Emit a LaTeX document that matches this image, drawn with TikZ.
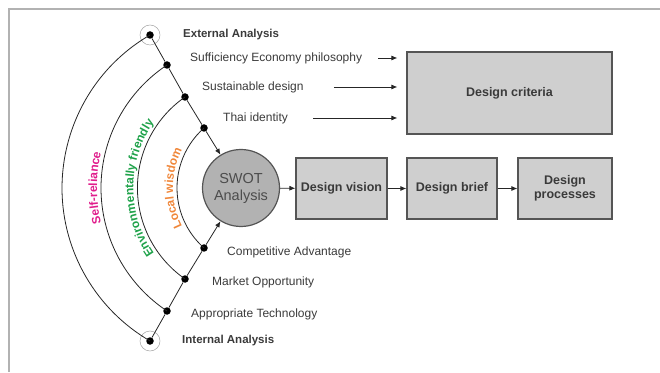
\documentclass[tikz,border=0pt]{standalone}
\usepackage{fontspec}
\setmainfont{Liberation Sans}
\usepackage{tikz}
\usetikzlibrary{arrows.meta,decorations.text}

\definecolor{selfcol}{HTML}{E01E8C}
\definecolor{envcol}{HTML}{1FA24A}
\definecolor{localcol}{HTML}{F0873A}
\definecolor{boxfill}{HTML}{CFCFCF}
\definecolor{swotfill}{HTML}{B2B2B2}
\definecolor{edge}{HTML}{555555}
\definecolor{txt}{HTML}{3A3A3A}

\newcommand{\arcfont}{\bfseries\fontsize{12}{14}\selectfont}

\begin{document}
\begin{tikzpicture}[x=1pt, y=1pt,
  label/.style={anchor=west, inner sep=0pt, text=txt, font=\fontsize{12}{14}\selectfont},
  heading/.style={label, font=\bfseries\fontsize{11.5}{14}\selectfont},
  stage/.style={draw=edge, line width=1.2pt, fill=boxfill, text=txt, align=center,
    font=\bfseries\fontsize{12.5}{14}\selectfont, minimum height=61pt, inner sep=2pt},
  dot/.style={circle, fill=black, inner sep=0pt, minimum size=7.5pt},
  ring/.style={draw=black!35, line width=0.5pt},
  wire/.style={line width=0.8pt, draw=black!85},
  arr/.style={wire, -{Latex[length=6pt,width=5pt]}}]

  \useasboundingbox (0,0) rectangle (660,372);
  \draw[black!30, line width=1.5pt] (9,0) -- (9,363) -- (660,363);

  % arc centres
  \coordinate (c1) at (239,184);
  \coordinate (c2) at (248.6,184);
  \coordinate (c3) at (248.2,184);
  \coordinate (c4) at (257,184);

  \node[circle, draw=edge, line width=1.2pt, fill=swotfill, minimum size=77pt, inner sep=0pt,
    text=black!70, align=center, font=\fontsize{14.5}{17}\selectfont] (swot) at (241,184) {SWOT\\Analysis};

  \node[dot] (ext) at (150,337) {};
  \node[dot] (e1) at (167,307) {};
  \node[dot] (e2) at (185,275) {};
  \node[dot] (e3) at (204,244) {};
  \node[dot] (int) at (150,31) {};
  \node[dot] (i1) at (167,61) {};
  \node[dot] (i2) at (185,93) {};
  \node[dot] (i3) at (204,124) {};

  \draw[ring] (ext) circle[radius=10pt];
  \draw[ring] (int) circle[radius=10pt];

  \draw[wire] (ext.center) arc[start angle=120.2, end angle=239.8, radius=177];
  \draw[wire] (e1.center) arc[start angle=123.56, end angle=236.44, radius=147.6];
  \draw[wire] (e2.center) arc[start angle=124.8, end angle=235.2, radius=110.8];
  \draw[wire] (e3.center) arc[start angle=131.5, end angle=228.5, radius=80.06];

  \draw[wire] (ext) -- (e1) -- (e2) -- (e3);
  \draw[arr] (e3) -- (swot);
  \draw[wire] (int) -- (i1) -- (i2) -- (i3);
  \draw[arr] (i3) -- (swot);

  \path[decorate, decoration={text along path, text align=center,
    text={|\arcfont\color{selfcol}|Self-reliance}}]
    ([shift={(c2)}]215:151.6) arc[start angle=215, end angle=145, radius=151.6];
  \path[decorate, decoration={text along path, text align=center,
    text={|\arcfont\color{envcol}|Environmentally friendly}}]
    ([shift={(c3)}]218:114.8) arc[start angle=218, end angle=142, radius=114.8];
  \path[decorate, decoration={text along path, text align=center,
    text={|\arcfont\color{localcol}|Local wisdom}}]
    ([shift={(c4)}]212:84) arc[start angle=212, end angle=148, radius=84];

  \node[heading] (exttext) at (183,337) {External Analysis};
  \node[label] (suff) at (190,314) {Sufficiency Economy philosophy};
  \node[label] (sust) at (202,285) {Sustainable design};
  \node[label] (thai) at (223,254) {Thai identity};
  \node[label] (comp) at (227,120) {Competitive Advantage};
  \node[label] (market) at (212,90) {Market Opportunity};
  \node[label] (appr) at (191,58) {Appropriate Technology};
  \node[heading] (inttext) at (182,31) {Internal Analysis};

  \node[stage, minimum width=205pt, minimum height=82pt] (crit) at (509.5,279) {Design criteria};
  \node[stage, minimum width=91pt] (vision) at (341.5,183.5) {Design vision};
  \node[stage, minimum width=90pt] (brief) at (452,183.5) {Design brief};
  \node[stage, minimum width=94pt] (proc) at (565,183.5) {Design\\processes};

  \draw[arr, shorten <=16pt, shorten >=9pt] (suff.east) -- (suff.east -| crit.west);
  \draw[arr, shorten <=30pt, shorten >=9pt] (sust.east) -- (sust.east -| crit.west);
  \draw[arr, shorten <=25pt, shorten >=9pt] (thai.east) -- (thai.east -| crit.west);

  \draw[arr] (swot) -- (vision);
  \draw[arr] (vision) -- (brief);
  \draw[arr] (brief) -- (proc);
\end{tikzpicture}
\end{document}
